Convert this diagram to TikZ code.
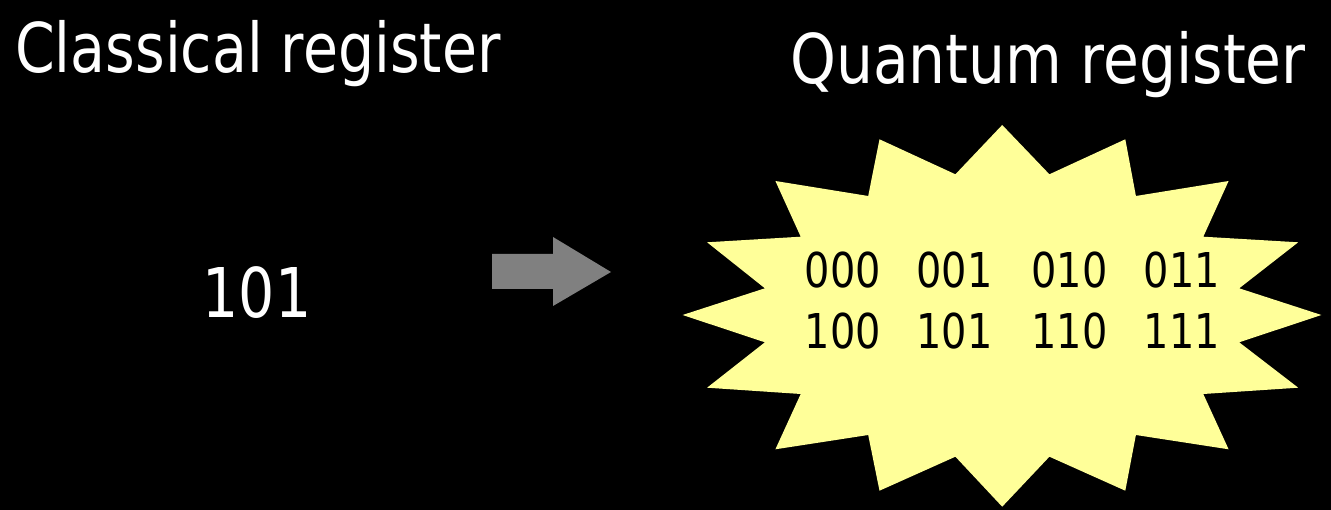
\documentclass[tikz,border=0pt]{standalone}
\usepackage{fontspec}
\setmainfont[FakeStretch=0.83]{DejaVu Sans}
\newfontfamily\qfont[FakeStretch=0.85]{DejaVu Sans}
\begin{document}
\begin{tikzpicture}[x=1pt,y=-1pt,
  title/.style={text=white,inner sep=0pt,font=\fontsize{68.6}{80}\selectfont},
  bits/.style={text=black,inner sep=0pt,anchor=base,font=\fontsize{48}{56}\selectfont},
  starfill/.style={fill=starY,draw=none},
  blockarrow/.style={fill=arrowgray,draw=none}]
\definecolor{starY}{RGB}{255,255,153}
\definecolor{arrowgray}{RGB}{128,128,128}
\fill[black] (0,0) rectangle (1331,510);
\useasboundingbox (0,0) rectangle (1331,510);
% titles
\node[title,anchor=base west] (ctitle) at (15,72.7) {Classical register};
\node[title,anchor=base west,font=\qfont\fontsize{68.6}{80}\selectfont] (qtitle) at (790,84) {Quantum register};
\node[title,anchor=base] (cval) at (257,317.7) {101};
% block arrow
\path[blockarrow] (492,254) -- (553,254) -- (553,237) -- (611,272) -- (553,306) -- (553,289) -- (492,289) -- cycle;
% starburst
\path[starfill] (1002.2,125) -- (1049.4,174.3) -- (1125.3,139.3) -- (1135.9,196) -- (1228.6,181)
  -- (1203.3,236.7) -- (1298.2,242.3) -- (1239.2,288.3) -- (1321.4,315) -- (1239.2,342.3)
  -- (1298.2,387.7) -- (1203.3,394) -- (1228.6,449.3) -- (1135.9,435) -- (1125.3,490.7)
  -- (1049.4,456.7) -- (1002.2,506.7) -- (955.4,456.7) -- (879.5,490.7) -- (868.2,435)
  -- (775.4,449.3) -- (800.7,394) -- (707.1,387.7) -- (764.9,342.3) -- (682.6,315)
  -- (764.9,288.3) -- (707.1,242.3) -- (800.7,236.7) -- (775.4,181) -- (868.2,196)
  -- (879.5,139.3) -- (955.4,174.3) -- cycle;
% register contents
\node[bits] (b000) at (843,287.5) {000};
\node[bits] (b001) at (954.5,287.5) {001};
\node[bits] (b010) at (1069.5,287.5) {010};
\node[bits] (b011) at (1182,287.5) {011};
\node[bits] (b100) at (843,348.3) {100};
\node[bits] (b101) at (954.5,348.3) {101};
\node[bits] (b110) at (1069.5,348.3) {110};
\node[bits] (b111) at (1182,348.3) {111};
\end{tikzpicture}
\end{document}
